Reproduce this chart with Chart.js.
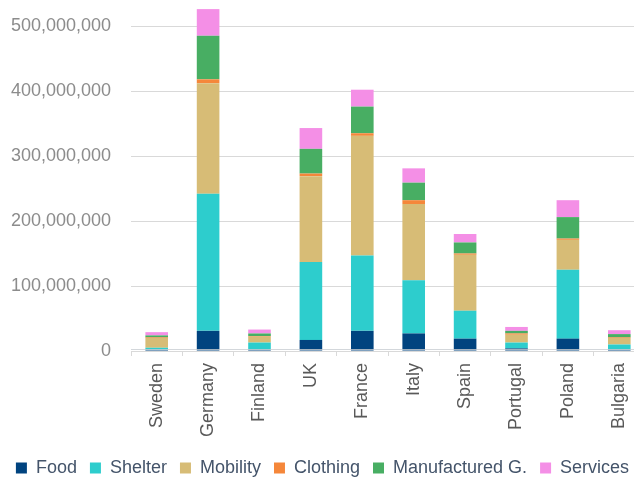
<!DOCTYPE html>
<html>
<head>
<meta charset="utf-8">
<script src="https://cdn.jsdelivr.net/npm/chart.js@4/dist/chart.umd.min.js"></script>
<style>
    html, body { margin: 0; padding: 0; background: #fff; overflow: hidden; }
    #wrap { width: 634px; height: 477px; overflow: hidden; }
</style>
</head>
<body>
<div id="wrap"><canvas id="spendChart" width="645" height="477"></canvas></div>
<script>
// Consumption by category and country (values in millions)
const UNIT = 1e6;
const countries = ['Sweden', 'Germany', 'Finland', 'UK', 'France', 'Italy', 'Spain', 'Portugal', 'Poland', 'Bulgaria'];
const food         = [2, 31, 2, 17, 31, 27, 19, 4, 19, 2];
const shelter      = [3, 211, 11, 120, 116, 82, 43, 9, 106, 8];
const mobility     = [15, 170, 9, 132, 184, 117, 86, 12, 46, 10];
const clothing     = [1, 6, 1, 4, 4, 6, 2, 2, 2, 1];
const manufactured = [3, 67, 4, 38, 41, 27, 17, 4, 33, 5];
const services     = [5, 41, 6, 32, 26, 22, 13, 6, 26, 6];
const yTicks = [0, 100, 200, 300, 400, 500];

const FONT = "'Liberation Sans', Arial, sans-serif";

function series(label, values, color) {
    return {
        label: label,
        data: values.map(v => v * UNIT),
        backgroundColor: color,
        borderWidth: 0,
        barPercentage: 0.44,
        categoryPercentage: 1
    };
}

// Country names read bottom-to-top, ending just under the axis;
// the axis line is repainted on top of the bars
const verticalLabels = {
    id: 'verticalLabels',
    afterDraw(chart) {
        const x = chart.scales.x;
        const area = chart.chartArea;
        const ctx = chart.ctx;
        ctx.save();
        ctx.strokeStyle = 'rgba(200,205,210,0.8)';
        ctx.lineWidth = 1;
        ctx.beginPath();
        ctx.moveTo(area.left, x.top - 1.5);
        ctx.lineTo(area.right, x.top - 1.5);
        ctx.stroke();

        ctx.font = '18px ' + FONT;
        ctx.fillStyle = '#595959';
        ctx.textAlign = 'right';
        ctx.textBaseline = 'middle';
        countries.forEach((name, i) => {
            ctx.save();
            ctx.translate(x.getPixelForTick(i), x.top + 12);
            ctx.rotate(-Math.PI / 2);
            ctx.fillText(name, 0, 0);
            ctx.restore();
        });
        ctx.restore();
    }
};

new Chart(document.getElementById('spendChart').getContext('2d'), {
    type: 'bar',
    data: {
        labels: countries,
        datasets: [
            series('Food', food, '#00437f'),
            series('Shelter', shelter, '#2dcdcd'),
            series('Mobility', mobility, '#d7bc76'),
            series('Clothing', clothing, '#f5873a'),
            series('Manufactured G.', manufactured, '#48ae63'),
            series('Services', services, '#f48fe6')
        ]
    },
    options: {
        responsive: false,
        animation: false,
        layout: { padding: { top: 0, left: 0, right: 0, bottom: -10 } },
        plugins: {
            tooltip: { enabled: false },
            legend: {
                position: 'bottom',
                labels: {
                    font: { family: FONT, size: 18 },
                    color: '#44546a',
                    boxWidth: 11,
                    boxHeight: 11,
                    padding: 13
                }
            }
        },
        scales: {
            x: {
                stacked: true,
                afterFit(scale) { scale.height = 95; },
                grid: {
                    offset: true,
                    drawOnChartArea: false,
                    color: '#d9d9d9',
                    tickLength: 5
                },
                border: { color: '#d9d9d9' },
                ticks: {
                    color: 'rgba(0,0,0,0)',
                    font: { family: FONT, size: 18 },
                    minRotation: 90,
                    maxRotation: 90
                }
            },
            y: {
                stacked: true,
                min: 0,
                max: 540 * UNIT,
                afterFit(scale) {
                    scale.width = 131;
                    scale.paddingTop = 0;
                    scale.paddingBottom = 0;
                },
                afterBuildTicks(scale) {
                    scale.ticks = yTicks.map(v => ({ value: v * UNIT }));
                },
                grid: { color: '#d9d9d9', drawTicks: false },
                border: { display: false },
                ticks: {
                    padding: 20,
                    color: '#8c8c8c',
                    font: { family: FONT, size: 18 },
                    callback: v => v.toLocaleString('en-US')
                }
            }
        }
    },
    plugins: [verticalLabels]
});
</script>
</body>
</html>
